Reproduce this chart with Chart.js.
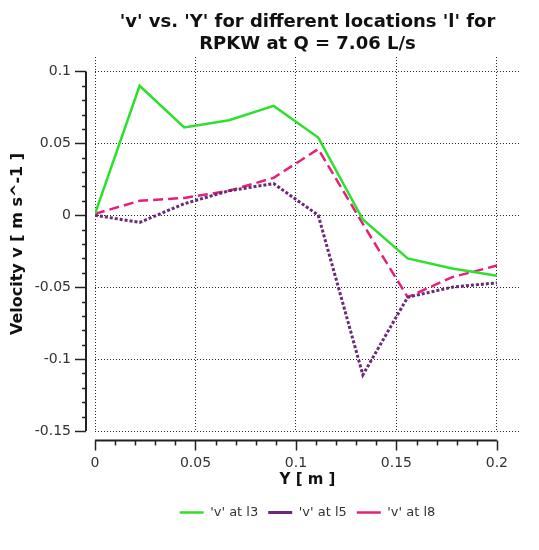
<!DOCTYPE html>
<html>
<head>
<meta charset="utf-8">
<script src="https://cdn.jsdelivr.net/npm/chart.js@4.4.0/dist/chart.umd.min.js"></script>
<style>
  html, body { margin: 0; padding: 0; background: #ffffff; }
  #wrap { width: 539px; height: 550px; position: relative; }
</style>
</head>
<body>
<div id="wrap"><canvas id="c" width="539" height="550"></canvas></div>
<script>
// ---- data ----
const positionsY = [0, 0.0222, 0.0444, 0.0667, 0.0889, 0.1111, 0.1333, 0.1556, 0.1778, 0.2];
const vAtL3 = [0.001, 0.090, 0.061, 0.066, 0.076, 0.054, -0.003, -0.030, -0.037, -0.042];
const vAtL5 = [0.000, -0.005, 0.008, 0.017, 0.022, 0.000, -0.111, -0.057, -0.050, -0.047];
const vAtL8 = [0.001, 0.010, 0.012, 0.017, 0.026, 0.046, -0.006, -0.057, -0.043, -0.035];
const seriesLabels = ["'v' at l3", "'v' at l5", "'v' at l8"];
const xTickValues = [0, 0.05, 0.1, 0.15, 0.2];
const yTickValues = [0.1, 0.05, 0, -0.05, -0.1, -0.15];
const titleLines = ["'v' vs. 'Y' for different locations 'l' for", "RPKW at Q = 7.06 L/s"];
const xTitle = "Y [ m ]";
const yTitle = "Velocity v [ m s^-1 ]";

const toPts = (arr) => positionsY.map((x, i) => ({x: x, y: arr[i]}));

// draws the offset axis lines with major and minor ticks
const axesPlugin = {
  id: 'offsetAxes',
  afterDraw(chart) {
    const ctx = chart.ctx;
    const xs = chart.scales.x, ys = chart.scales.y;
    ctx.save();
    ctx.strokeStyle = '#222';
    ctx.setLineDash([]);
    // y axis
    const ax = 86;
    const yTop = ys.getPixelForValue(0.1), yBot = ys.getPixelForValue(-0.15);
    ctx.lineWidth = 2;
    ctx.beginPath(); ctx.moveTo(ax, yTop); ctx.lineTo(ax, yBot); ctx.stroke();
    ctx.lineWidth = 1.5;
    for (let k = -15; k <= 10; k++) {
      const p = Math.round(ys.getPixelForValue(k / 100)) + 0.5;
      const major = (k % 5 === 0);
      ctx.beginPath(); ctx.moveTo(ax, p); ctx.lineTo(ax - (major ? 11 : 4), p); ctx.stroke();
    }
    // x axis
    const ay = 440.5;
    const xL = xs.getPixelForValue(0), xR = xs.getPixelForValue(0.2);
    ctx.lineWidth = 2;
    ctx.beginPath(); ctx.moveTo(xL, ay); ctx.lineTo(xR, ay); ctx.stroke();
    ctx.lineWidth = 1.5;
    for (let k = 0; k <= 20; k++) {
      const p = Math.round(xs.getPixelForValue(k / 100)) + 0.5;
      const major = (k % 5 === 0);
      ctx.beginPath(); ctx.moveTo(p, ay); ctx.lineTo(p, ay + (major ? 10 : 5)); ctx.stroke();
    }
    ctx.restore();
  }
};

new Chart(document.getElementById('c'), {
  type: 'line',
  data: {
    datasets: [
      { label: seriesLabels[0], data: toPts(vAtL3), borderColor: '#2ee02e', backgroundColor: '#2ee02e',
        borderWidth: 2.5, pointRadius: 0, tension: 0, fill: false },
      { label: seriesLabels[1], data: toPts(vAtL5), borderColor: '#6a2a78', backgroundColor: '#6a2a78',
        borderWidth: 3, borderDash: [3, 2], pointRadius: 0, tension: 0, fill: false },
      { label: seriesLabels[2], data: toPts(vAtL8), borderColor: '#e5207a', backgroundColor: '#e5207a',
        borderWidth: 2.5, borderDash: [10, 5], pointRadius: 0, tension: 0, fill: false }
    ]
  },
  options: {
    responsive: false,
    animation: false,
    layout: { padding: { left: 0, right: 19, top: 0, bottom: 21 } },
    plugins: {
      title: {
        display: true, text: titleLines, fullSize: false, color: '#111',
        font: { family: 'DejaVu Sans', size: 18, weight: 'bold', lineHeight: 22 / 18 },
        padding: { top: 11, bottom: 2 }
      },
      legend: {
        display: true, position: 'bottom', fullSize: false,
        labels: {
          usePointStyle: true, pointStyle: 'line', pointStyleWidth: 24, boxWidth: 24,
          color: '#333', font: { family: 'DejaVu Sans', size: 13 }, padding: 10
        }
      },
      tooltip: { enabled: false }
    },
    scales: {
      x: {
        type: 'linear', min: 0, max: 0.2115,
        afterFit: (s) => { s.height = 65; },
        afterBuildTicks: (s) => { s.ticks = xTickValues.map(v => ({value: v})); },
        ticks: { includeBounds: false, padding: 24, color: '#333', maxRotation: 0,
          font: { family: 'DejaVu Sans', size: 14 },
          callback: (v) => String(Math.round(v * 100) / 100) },
        grid: { color: '#222', lineWidth: 1, drawTicks: false },
        border: { display: false, dash: [1, 2] },
        title: { display: true, text: xTitle, color: '#111',
          font: { family: 'DejaVu Sans', size: 15, weight: 'bold' }, padding: { top: 0, bottom: 7 } }
      },
      y: {
        type: 'linear', min: -0.15, max: 0.11,
        afterFit: (s) => { s.width = 95; },
        afterBuildTicks: (s) => { s.ticks = yTickValues.map(v => ({value: v})); },
        ticks: { includeBounds: false, padding: 24, color: '#333',
          font: { family: 'DejaVu Sans', size: 14 },
          callback: (v) => String(Math.round(v * 100) / 100) },
        grid: { color: '#222', lineWidth: 1, drawTicks: false },
        border: { display: false, dash: [1, 2] },
        title: { display: true, text: yTitle, color: '#111',
          font: { family: 'DejaVu Sans', size: 16, weight: 'bold' }, padding: { top: 8, bottom: 0 } }
      }
    }
  },
  plugins: [axesPlugin]
});
</script>
</body>
</html>
